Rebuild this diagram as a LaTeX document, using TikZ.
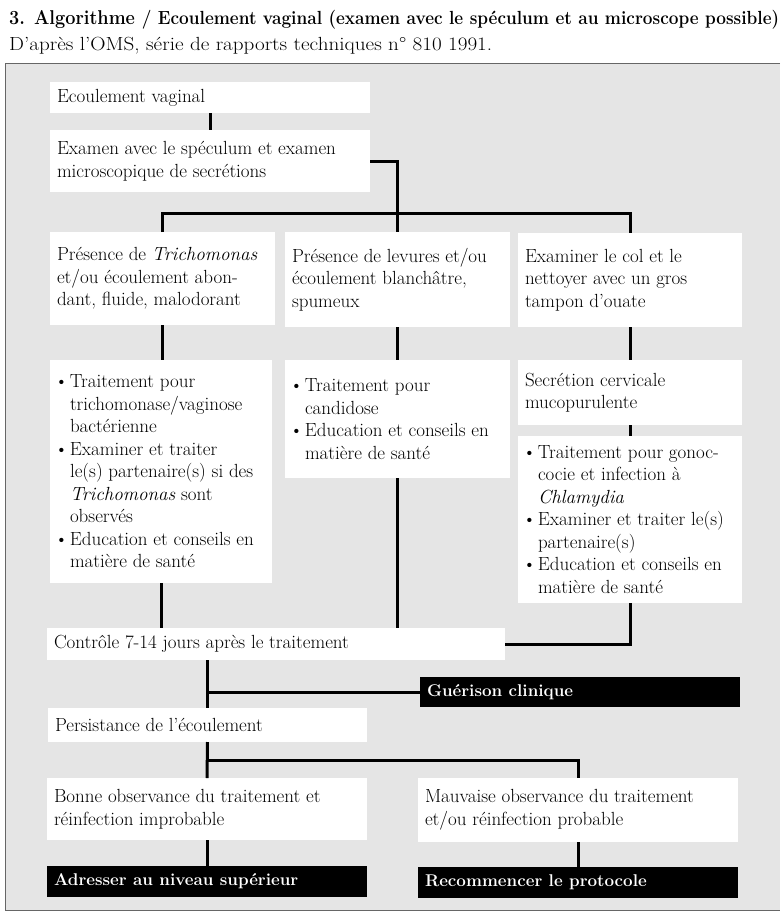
\documentclass[tikz,border=0pt]{standalone}
\usepackage{graphicx}
\tikzset{
 box/.style={fill=white, inner xsep=7pt, inner ysep=0pt, outer sep=0pt, anchor=north west, font=\fontsize{19}{22.5}\selectfont},
 bbox/.style={fill=black, text=white, inner xsep=7pt, inner ysep=0pt, outer sep=0pt, anchor=north west, font=\fontsize{17}{20}\selectfont\bfseries},
 link/.style={line width=3pt, black},
}
\newcommand\bx[7]{%
 \pgfmathsetmacro\tw{#5-#3-14}\pgfmathsetmacro\th{#6-#4}%
 \node[#1,minimum height=\th pt] (#2) at (#3,#4) {\parbox{\tw pt}{\raggedright\parindent=0pt #7}};}
\newcommand\bul{\par\hangindent=13pt\hangafter=1\noindent\makebox[13pt][l]{\hspace{-2.5pt}\textbullet}\ignorespaces}
\begin{document}
\begin{tikzpicture}[x=1pt,y=-1pt]
\useasboundingbox (0,0) rectangle (780,914);
\fill[white] (0,0) rectangle (780,914);
\fill[black!10] (5,63) rectangle (780,910);
\draw[black!60, line width=0.8pt] (780,63) -- (5,63) -- (5,910) -- (780,910);

\node[anchor=base west, inner sep=0pt] (title) at (9,24) {\resizebox{770pt}{\height}{\bfseries\fontsize{20}{24}\selectfont 3. Algorithme {\fontsize{19}{24}\selectfont / Ecoulement vaginal (examen avec le spéculum et au microscope possible)}}};
\node[anchor=base west, inner sep=0pt] (sub) at (9,50) {\resizebox{483pt}{\height}{\fontsize{19}{22}\selectfont D’après l’OMS, série de rapports techniques n° 810 1991.}};

\bx{box}{ev}{50}{82}{370}{113}{Ecoulement vaginal}
\bx{box}{ex}{50}{130}{370}{192}{Examen avec le spéculum et examen\\microscopique de secrétions}
\bx{box}{A}{50}{232}{275}{325}{Présence de \textit{Trichomonas}\\et/ou écoulement abon-\\dant, fluide, malodorant}
\bx{box}{B}{285}{232}{510}{327}{Présence de levures et/ou\\écoulement blanchâtre,\\spumeux}
\bx{box}{C}{518}{233}{742}{327}{Examiner le col et le\\nettoyer avec un gros\\tampon d’ouate}
\bx{box}{A2}{50}{360}{272}{583}{\bul Traitement pour\newline trichomonase/vaginose\newline bactérienne\bul Examiner et traiter\newline le(s) partenaire(s) si des\newline \textit{Trichomonas} sont\newline observés\bul Education et conseils en\newline matière de santé}
\bx{box}{B2}{285}{360}{510}{478}{\bul Traitement pour\newline candidose\bul Education et conseils en\newline matière de santé}
\bx{box}{C2}{518}{360}{742}{425}{Secrétion cervicale\\mucopurulente}
\bx{box}{C3}{518}{436}{742}{603}{\bul Traitement pour gonoc-\newline cocie et infection à\newline \textit{Chlamydia}\bul Examiner et traiter le(s)\newline partenaire(s)\bul Education et conseils en\newline matière de santé}
\bx{box}{ctrl}{47}{628}{505}{660}{Contrôle 7-14 jours après le traitement}
\bx{bbox}{gue}{420}{677}{740}{707}{Guérison clinique}
\bx{box}{pers}{48}{708}{367}{742}{Persistance de l’écoulement}
\bx{box}{bonne}{47}{778}{367}{840}{Bonne observance du traitement et\\réinfection improbable}
\bx{bbox}{adr}{47}{866}{367}{897}{Adresser au niveau supérieur}
\bx{box}{mauv}{418}{778}{738}{842}{Mauvaise observance du traitement\\et/ou réinfection probable}
\bx{bbox}{rec}{418}{867}{738}{898}{Recommencer le protocole}

\draw[link] (ev.south) -- (ex.north);
\draw[link] (ex.east) -| (B.north);
\draw[link] (A.north) -- ++(0,-19) -| (C.north);
\draw[link] (A.south) -- (A.south |- A2.north);
\draw[link] (B.south) -- (B.south |- B2.north);
\draw[link] (C.south) -- (C.south |- C2.north);
\draw[link] (C2.south) -- (C3.north);
\draw[link] (A2.south) -- (A2.south |- ctrl.north);
\draw[link] (B2.south) -- (B2.south |- ctrl.north);
\draw[link] (C3.south) |- (ctrl.east);
\draw[link] (pers.north |- ctrl.south) -- (pers.north);
\draw[link] (pers.north |- gue.west) -- (gue.west);
\draw[link] (pers.south) -- (bonne.north);
\draw[link] (pers.south) ++(0,18) -| (mauv.north);
\draw[link] (bonne.south) -- (adr.north);
\draw[link] (mauv.south) -- (rec.north);
\end{tikzpicture}
\end{document}
